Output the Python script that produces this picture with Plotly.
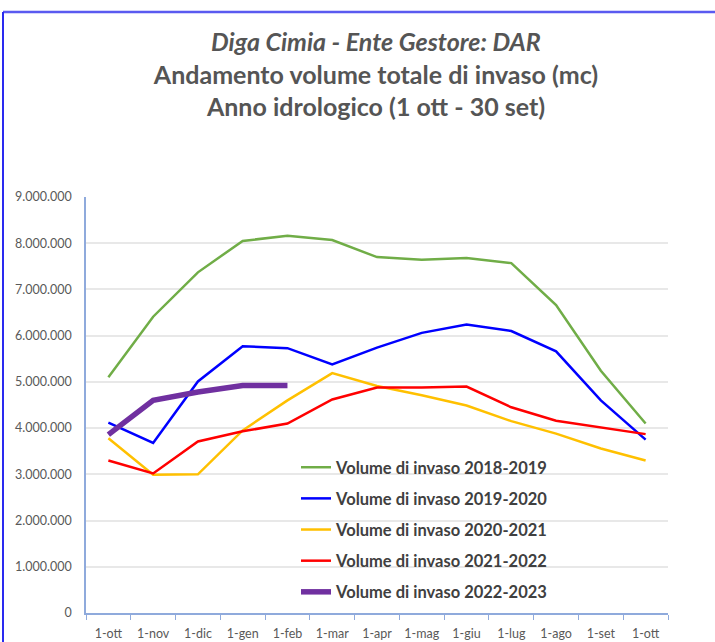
import plotly.graph_objects as go

categories = ["1-ott", "1-nov", "1-dic", "1-gen", "1-feb", "1-mar", "1-apr",
              "1-mag", "1-giu", "1-lug", "1-ago", "1-set", "1-ott"]

vol_2018_2019 = [5100000, 6410000, 7370000, 8050000, 8160000, 8070000, 7700000,
                 7640000, 7680000, 7570000, 6660000, 5240000, 4100000]
vol_2019_2020 = [4120000, 3680000, 5010000, 5770000, 5730000, 5380000, 5740000,
                 6060000, 6240000, 6100000, 5660000, 4600000, 3750000]
vol_2020_2021 = [3780000, 2990000, 3000000, 3950000, 4600000, 5190000, 4910000,
                 4710000, 4490000, 4150000, 3880000, 3560000, 3300000]
vol_2021_2022 = [3300000, 3020000, 3710000, 3930000, 4100000, 4620000, 4880000,
                 4880000, 4900000, 4450000, 4160000, 4020000, 3870000]
vol_2022_2023 = [3860000, 4600000, 4780000, 4920000, 4920000]

series = [
    ("Volume di invaso 2018-2019", vol_2018_2019, "#70AD47", 2.5),
    ("Volume di invaso 2019-2020", vol_2019_2020, "#0000FF", 2.5),
    ("Volume di invaso 2020-2021", vol_2020_2021, "#FFC000", 2.5),
    ("Volume di invaso 2021-2022", vol_2021_2022, "#FF0000", 2.5),
    ("Volume di invaso 2022-2023", vol_2022_2023, "#7030A0", 5.5),
]

W, H = 715, 642
L, R, T, B = 86, 47, 197, 29
pw, ph = W - L - R, H - T - B

fig = go.Figure()
for i, (name, vals, color, width) in enumerate(series):
    fig.add_trace(go.Scatter(
        x=list(range(len(vals))), y=vals, mode="lines", name=name,
        legendgroup=f"g{i}",
        line=dict(color=color, width=width),
    ))

def px_x(p):
    return (p - L) / pw

def px_y(p):
    return (H - B - p) / ph

fig.update_layout(
    width=W, height=H,
    margin=dict(l=L, r=R, t=T, b=B, autoexpand=False),
    paper_bgcolor="white", plot_bgcolor="white",
    separators=",.",
    font=dict(family="Lato", color="#595959"),
    title=dict(
        text="<b><i>Diga Cimia - Ente Gestore: DAR</i></b><br><b>Andamento volume totale di invaso (mc)</b><br><b>Anno idrologico (1 ott - 30 set)</b>",
        x=376 / W, xanchor="center", xref="container",
        y=1 - 51 / H, yanchor="top", yref="container",
        font=dict(family="Lato", size=25, color="#555555"),
    ),
    xaxis=dict(
        range=[-0.5, 12.5],
        tickmode="array", tickvals=list(range(len(categories))), ticktext=categories,
        ticks="", showgrid=False, zeroline=False,
        showline=True, linecolor="#8FAADC", linewidth=1.5,
        minor=dict(ticks="outside", tick0=-0.5, dtick=1, ticklen=5,
                   tickcolor="#8FAADC", tickwidth=1, showgrid=False),
        tickfont=dict(family="Lato", size=12.5, color="#595959"),
        ticklabelstandoff=8,
        automargin=False,
        fixedrange=True,
    ),
    yaxis=dict(
        range=[0, 9000000], dtick=1000000, tick0=0,
        tickformat=",d",
        showgrid=True, gridcolor="#E8E8E8", gridwidth=1.5,
        zeroline=False,
        showline=True, linecolor="#8FAADC", linewidth=1.5,
        ticks="",
        tickfont=dict(family="Lato", size=12.5, color="#595959"),
        ticklabelstandoff=10,
        automargin=False,
    ),
    legend=dict(
        x=px_x(296), y=px_y(450), xanchor="left", yanchor="top",
        bgcolor="rgba(0,0,0,0)",
        font=dict(family="Lato", size=16.5, color="#404040", weight="bold"),
        tracegroupgap=6.7,
        itemwidth=30,
    ),
    showlegend=True,
    shapes=[
        dict(type="line", xref="paper", yref="paper",
             x0=px_x(3), x1=px_x(W + 5), y0=px_y(12), y1=px_y(12),
             line=dict(color="#5A5AF0", width=2.5)),
        dict(type="line", xref="paper", yref="paper",
             x0=px_x(3), x1=px_x(3), y0=px_y(12), y1=px_y(H + 5),
             line=dict(color="#2A2AF0", width=2)),
    ],
)

fig.write_html("out.html", config={"displayModeBar": False},
               post_script="document.body.style.margin='0';")
